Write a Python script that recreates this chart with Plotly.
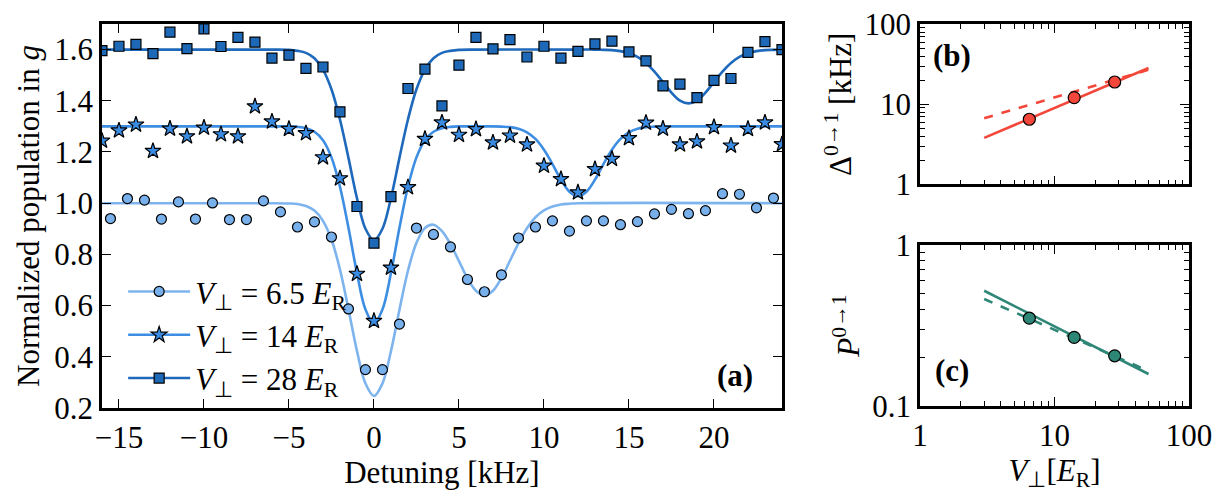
import plotly.graph_objects as go

# ---------------- data: panel (a) ----------------
det_circ = [-15.5, -14.5, -13.5, -12.5, -11.5, -10.5, -9.5, -8.5, -7.5, -6.5, -5.5, -4.5, -3.5, -2.5, -1.5,
            -0.5, 0.5, 1.5, 2.5, 3.5, 4.5, 5.5, 6.5, 7.5, 8.5, 9.5, 10.5, 11.5, 12.5, 13.5, 14.5, 15.5,
            16.5, 17.5, 18.5, 19.5, 20.5, 21.5, 22.5, 23.5]
pop_circ = [0.94, 1.018, 1.012, 0.938, 1.005, 0.938, 1.001, 0.936, 0.936, 1.009, 0.966, 0.907, 0.927, 0.868,
            0.587, 0.35, 0.35, 0.528, 0.903, 0.878, 0.829, 0.702, 0.654, 0.72, 0.864, 0.907, 0.931, 0.891,
            0.931, 0.931, 0.916, 0.928, 0.958, 0.976, 0.959, 0.971, 1.037, 1.035, 0.982, 1.02]

det_int = [-16, -15, -14, -13, -12, -11, -10, -9, -8, -7, -6, -5, -4, -3, -2, -1, 0, 1, 2, 3, 4, 5, 6, 7,
           8, 9, 10, 11, 12, 13, 14, 15, 16, 17, 18, 19, 20, 21, 22, 23, 24]
pop_star = [1.244, 1.284, 1.307, 1.204, 1.291, 1.261, 1.295, 1.269, 1.261, 1.378, 1.319, 1.290, 1.273, 1.179,
            1.097, 0.724, 0.54, 0.748, 1.062, 1.251, 1.315, 1.267, 1.289, 1.237, 1.264, 1.229, 1.146, 1.094,
            1.042, 1.133, 1.173, 1.254, 1.314, 1.291, 1.229, 1.241, 1.297, 1.225, 1.29, 1.315, 1.23]
pop_sq = [1.596, 1.613, 1.62, 1.584, 1.668, 1.604, 1.681, 1.612, 1.648, 1.629, 1.567, 1.578, 1.527, 1.532,
          1.357, 0.987, 0.844, 1.026, 1.448, 1.524, 1.38, 1.539, 1.648, 1.603, 1.639, 1.571, 1.613, 1.567,
          1.593, 1.622, 1.633, 1.591, 1.556, 1.458, 1.465, 1.412, 1.48, 1.487, 1.589, 1.631, 1.60]

# fitted curves
fit_x_circ = [-16, -6, -5, -4.5, -4, -3.5, -3, -2.5, -2, -1.5, -1, -0.5, 0, 0.5, 1, 1.5, 2, 2.5, 3, 3.5, 4,
              4.5, 5, 5.5, 6, 6.5, 7, 7.5, 8, 8.5, 9, 9.5, 10, 10.5, 11, 11.5, 12, 24]
fit_y_circ = [1.0, 1.0, 0.999, 0.997, 0.989, 0.971, 0.931, 0.858, 0.741, 0.586, 0.423, 0.296, 0.247, 0.296,
              0.422, 0.584, 0.736, 0.845, 0.903, 0.916, 0.891, 0.840, 0.774, 0.707, 0.658, 0.640, 0.658,
              0.708, 0.775, 0.843, 0.902, 0.945, 0.972, 0.987, 0.995, 0.998, 1.0, 1.0]

fit_x_star = [-16, -6, -5, -4.5, -4, -3.5, -3, -2.5, -2, -1.5, -1, -0.5, 0, 0.5, 1, 1.5, 2, 2.5, 3, 3.5, 4,
              4.5, 5, 6, 7, 7.5, 8, 8.5, 9, 9.5, 10, 10.5, 11, 11.5, 12, 12.5, 13, 13.5, 14, 14.5, 15, 15.5,
              16, 16.5, 17, 18, 24]
fit_y_star = [1.3, 1.3, 1.3, 1.298, 1.293, 1.279, 1.246, 1.179, 1.064, 0.904, 0.727, 0.585, 0.53, 0.585,
              0.727, 0.904, 1.064, 1.179, 1.246, 1.279, 1.293, 1.298, 1.3, 1.3, 1.3, 1.299, 1.297, 1.291,
              1.277, 1.251, 1.209, 1.153, 1.092, 1.045, 1.027, 1.045, 1.092, 1.153, 1.209, 1.251, 1.277,
              1.291, 1.297, 1.299, 1.3, 1.3, 1.3]

fit_x_sq = [-16, -6, -5, -4.5, -4, -3.5, -3, -2.5, -2, -1.5, -1, -0.5, 0, 0.5, 1, 1.5, 2, 2.5, 3, 3.5, 4,
            4.5, 5, 6, 12, 13, 13.5, 14, 14.5, 15, 15.5, 16, 16.5, 17, 17.5, 18, 18.5, 19, 19.5, 20, 20.5,
            21, 21.5, 22, 22.5, 23, 23.5, 24]
fit_y_sq = [1.6, 1.6, 1.599, 1.595, 1.587, 1.566, 1.522, 1.445, 1.327, 1.177, 1.020, 0.900, 0.855, 0.900,
            1.020, 1.177, 1.327, 1.445, 1.522, 1.566, 1.587, 1.595, 1.599, 1.6, 1.6, 1.6, 1.599, 1.598,
            1.594, 1.586, 1.572, 1.548, 1.514, 1.473, 1.432, 1.401, 1.39, 1.401, 1.432, 1.473, 1.514,
            1.548, 1.572, 1.586, 1.594, 1.598, 1.599, 1.6]

series_names = ["<i>V</i><sub>⊥</sub> = 6.5 <i>E</i><sub>R</sub>",
                "<i>V</i><sub>⊥</sub> = 14 <i>E</i><sub>R</sub>",
                "<i>V</i><sub>⊥</sub> = 28 <i>E</i><sub>R</sub>"]

# ---------------- data: panels (b), (c) ----------------
v_perp = [6.5, 14, 28]
delta01 = [6.5, 12.1, 19.0]
p01 = [0.351, 0.267, 0.205]
fit_v = [3, 50]
delta_fit_solid = [3.8, 28.4]
delta_fit_dashed = [6.7, 27.0]
p_fit_solid = [0.52, 0.158]
p_fit_dashed = [0.462, 0.165]

# ---------------- styling ----------------
FONT = "Liberation Serif"
FS = 31
c_light, c_mid, c_dark = "#7db4ee", "#3d8ee2", "#1e69bb"
f_light, f_mid, f_dark = "#78b0ec", "#3a8ce2", "#1e68b8"
c_red = "#f2473a"
c_teal = "#2e8676"

fig = go.Figure()

curves = [(fit_x_circ, fit_y_circ, c_light), (fit_x_star, fit_y_star, c_mid), (fit_x_sq, fit_y_sq, c_dark)]
for fx, fy, col in curves:
    fig.add_trace(go.Scatter(x=fx, y=fy, mode="lines", line=dict(color=col, width=2.6, shape="spline"),
                             showlegend=False, hoverinfo="skip", xaxis="x", yaxis="y"))

pts = [(det_circ, pop_circ, "circle", f_light, 10),
       (det_int, pop_star, "star", f_mid, 12),
       (det_int, pop_sq, "square", f_dark, 10)]
for px, py, sym, col, sz in pts:
    fig.add_trace(go.Scatter(x=px, y=py, mode="markers",
                             marker=dict(symbol=sym, color=col, size=sz, line=dict(color="black", width=1.2)),
                             showlegend=False, xaxis="x", yaxis="y"))

for name, (_, _, lcol), (_, _, sym, fcol, sz) in zip(series_names, curves, pts):
    fig.add_trace(go.Scatter(x=[None], y=[None], mode="lines+markers", name=name,
                             line=dict(color=lcol, width=2.6),
                             marker=dict(symbol=sym, color=fcol, size=sz, line=dict(color="black", width=1.2)),
                             xaxis="x", yaxis="y"))

# panel (b)
fig.add_trace(go.Scatter(x=fit_v, y=delta_fit_dashed, mode="lines", line=dict(color=c_red, width=2.6, dash="dash"),
                         showlegend=False, xaxis="x2", yaxis="y2"))
fig.add_trace(go.Scatter(x=fit_v, y=delta_fit_solid, mode="lines", line=dict(color=c_red, width=2.6),
                         showlegend=False, xaxis="x2", yaxis="y2"))
fig.add_trace(go.Scatter(x=v_perp, y=delta01, mode="markers",
                         marker=dict(symbol="circle", color=c_red, size=12, line=dict(color="black", width=1.2)),
                         showlegend=False, xaxis="x2", yaxis="y2"))
# panel (c)
fig.add_trace(go.Scatter(x=fit_v, y=p_fit_dashed, mode="lines", line=dict(color=c_teal, width=2.6, dash="dash"),
                         showlegend=False, xaxis="x3", yaxis="y3"))
fig.add_trace(go.Scatter(x=fit_v, y=p_fit_solid, mode="lines", line=dict(color=c_teal, width=2.6),
                         showlegend=False, xaxis="x3", yaxis="y3"))
fig.add_trace(go.Scatter(x=v_perp, y=p01, mode="markers",
                         marker=dict(symbol="circle", color=c_teal, size=12, line=dict(color="black", width=1.2)),
                         showlegend=False, xaxis="x3", yaxis="y3"))

axis_common = dict(showline=True, linewidth=2.5, linecolor="black", mirror="ticks", ticks="inside",
                   tickcolor="black", tickwidth=1.3, showgrid=False, zeroline=False, automargin=False,
                   ticklabeloverflow="allow",
                   tickfont=dict(family=FONT, size=FS, color="black"))

minor_x = [2, 3, 4, 5, 6, 7, 8, 9, 20, 30, 40, 50, 60, 70, 80, 90]
minor_y3 = [0.2, 0.3, 0.4, 0.5, 0.6, 0.7, 0.8, 0.9]

fig.update_layout(
    width=1225, height=492, margin=dict(l=0, r=0, t=0, b=0, autoexpand=False),
    paper_bgcolor="white", plot_bgcolor="white",
    font=dict(family=FONT, size=FS, color="black"),
    xaxis=dict(domain=[0.0767, 0.6318], range=[-16, 24], tickvals=[-15, -10, -5, 0, 5, 10, 15, 20],
               ticklen=9, anchor="y",
               title=dict(text="Detuning [kHz]", font=dict(family=FONT, size=FS), standoff=6), **axis_common),
    yaxis=dict(domain=[0.187, 0.9675], range=[0.2, 1.7], tickvals=[0.2, 0.4, 0.6, 0.8, 1.0, 1.2, 1.4, 1.6],
               tickformat=".1f", ticklen=9, anchor="x",
               title=dict(text="Normalized population in <i>g</i>", font=dict(family=FONT, size=FS), standoff=6),
               **axis_common),
    xaxis2=dict(type="log", domain=[0.7445, 0.9641], range=[0, 2], anchor="y2", tickvals=[1, 10, 100],
                showticklabels=False, ticklen=9,
                minor=dict(ticks="inside", ticklen=5, tickcolor="black", tickwidth=1, tickvals=minor_x),
                **axis_common),
    yaxis2=dict(type="log", domain=[0.6417, 0.9669], range=[0, 2], anchor="x2", tickvals=[1, 10, 100],
                ticktext=["1", "10", "100"], ticklen=9,
                minor=dict(ticks="inside", ticklen=5, tickcolor="black", tickwidth=1, tickvals=minor_x),
                title=dict(text="Δ<sup>0→1</sup> [kHz]", font=dict(family=FONT, size=FS), standoff=4),
                **axis_common),
    xaxis3=dict(type="log", domain=[0.7445, 0.9641], range=[0, 2], anchor="y3", tickvals=[1, 10, 100],
                ticktext=["1", "10", "100"], ticklen=9,
                minor=dict(ticks="inside", ticklen=5, tickcolor="black", tickwidth=1, tickvals=minor_x),
                title=dict(text="<i>V</i><sub>⊥</sub>[<i>E</i><sub>R</sub>]", font=dict(family=FONT, size=FS),
                           standoff=6),
                **axis_common),
    yaxis3=dict(type="log", domain=[0.1911, 0.5183], range=[-1, 0], anchor="x3", tickvals=[0.1, 1],
                ticktext=["0.1", "1"], ticklen=9,
                minor=dict(ticks="inside", ticklen=5, tickcolor="black", tickwidth=1, tickvals=minor_y3),
                title=dict(text="<i>P</i><sup>0→1</sup>", font=dict(family=FONT, size=FS), standoff=4),
                **axis_common),
    legend=dict(x=0.094, y=0.478, xanchor="left", yanchor="top", bgcolor="rgba(0,0,0,0)",
                font=dict(family=FONT, size=FS), tracegroupgap=0, itemwidth=62),
    annotations=[
        dict(text="<b>(a)</b>", x=0.5935, y=0.254, xref="paper", yref="paper", showarrow=False,
             xanchor="center", yanchor="middle", font=dict(family=FONT, size=FS)),
        dict(text="<b>(b)</b>", x=0.771, y=0.904, xref="paper", yref="paper", showarrow=False,
             xanchor="center", yanchor="middle", font=dict(family=FONT, size=FS)),
        dict(text="<b>(c)</b>", x=0.771, y=0.264, xref="paper", yref="paper", showarrow=False,
             xanchor="center", yanchor="middle", font=dict(family=FONT, size=FS)),
    ],
)

fig.write_html("out.html")
